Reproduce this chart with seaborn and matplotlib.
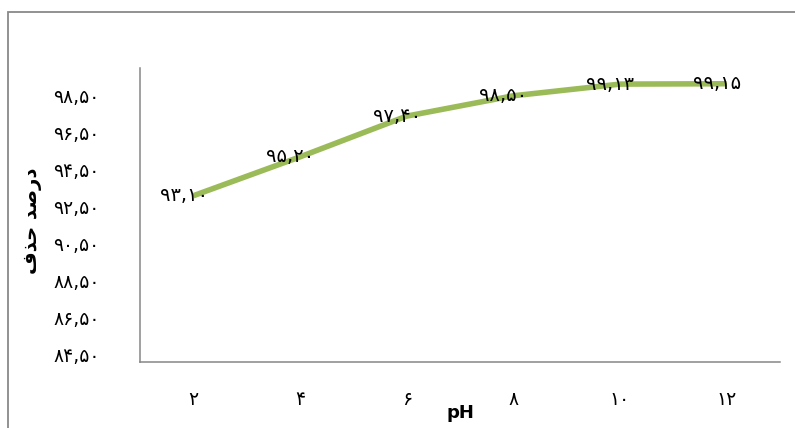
import numpy as np
import pandas as pd
import matplotlib
matplotlib.use("Agg")
import matplotlib.pyplot as plt
import seaborn as sns
from matplotlib.patches import Rectangle

# data
ph_values = [2, 4, 6, 8, 10, 12]
removal = [93.10, 95.20, 97.40, 98.50, 99.13, 99.15]
y_ticks = [84.5, 86.5, 88.5, 90.5, 92.5, 94.5, 96.5, 98.5]

FA = str.maketrans("0123456789.", "۰۱۲۳۴۵۶۷۸۹,")

def to_fa(s):
    return s.translate(FA)

# "درصد حذف" in shaped presentation forms, visual order (matplotlib has no shaping)
y_title = "\uFED1\uFEAC\uFEA3 \uFEAA\uFEBB\uFEAD\uFEA9"

df = pd.DataFrame({"pH": [to_fa(str(v)) for v in ph_values], "removal": removal})

sns.set_style("white")
plt.rcParams['font.family'] = ['DejaVu Sans']
plt.rcParams['text.color'] = 'black'
plt.rcParams['xtick.color'] = 'black'
plt.rcParams['ytick.color'] = 'black'
plt.rcParams['axes.labelcolor'] = 'black'

fig = plt.figure(figsize=(7.95, 4.28), dpi=100)
ax = fig.add_axes([140 / 795, 1 - 362 / 428, 640 / 795, 294 / 428])

sns.lineplot(data=df, x="pH", y="removal", color="#9BBB59", linewidth=4.0,
             solid_joinstyle="round", solid_capstyle="butt", ax=ax)

# data labels
for i, v in enumerate(removal):
    ax.annotate(to_fa(f"{v:.2f}"), (i, v), xytext=(-7, 0), textcoords="offset points",
                ha="center", va="center", fontsize=14, color="black")

ax.set_xlim(-0.5, 5.5)
ax.set_ylim(84.12, 100.0)
ax.set_yticks(y_ticks)
ax.set_yticklabels([to_fa(f"{t:.2f}") for t in y_ticks])
ax.tick_params(axis="y", length=0, pad=29, labelsize=13.5)
ax.tick_params(axis="x", length=0, pad=20, labelsize=13.5)

for side in ["top", "right"]:
    ax.spines[side].set_visible(False)
for side in ["left", "bottom"]:
    ax.spines[side].set_color("#868686")
    ax.spines[side].set_linewidth(1.1)

ax.set_xlabel("pH", fontsize=13, fontweight="bold")
ax.xaxis.set_label_coords(0.5, -(413 - 362) / 294)
ax.xaxis.label.set_va("center")
ax.set_ylabel(y_title, fontsize=14, fontweight="bold")
ax.yaxis.set_label_coords((33 - 140) / 640, (362 - 221) / 294)
ax.yaxis.label.set_va("center")

# outer chart frame (cropped on right and bottom)
fig.add_artist(Rectangle((8 / 795, -0.2), 1.2, 1 - 12 / 428 + 0.2,
                         transform=fig.transFigure, fill=False,
                         edgecolor="#898989", linewidth=1.3))

fig.savefig("out.png", dpi=100)
